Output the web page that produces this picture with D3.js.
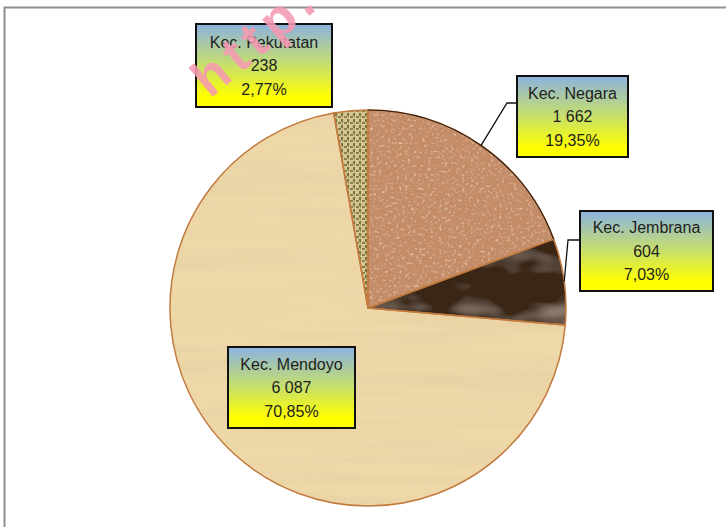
<!DOCTYPE html>
<html><head><meta charset="utf-8">
<script src="https://cdn.jsdelivr.net/npm/d3@7/dist/d3.min.js"></script>
<style>html,body{margin:0;padding:0;background:#fff;}svg{display:block;}</style>
</head><body>
<svg id="chart" width="726" height="527"></svg>
<script>
const categories = ["Kec. Negara", "Kec. Jembrana", "Kec. Mendoyo", "Kec. Pekutatan"];
const values = [1662, 604, 6087, 238];
const watermark = "http.";

const W = 726, H = 527;
const cx = 368, cy = 308, R = 198;
const svg = d3.select("#chart");
const defs = svg.append("defs");

// label box layout (top-left and size), keyed by category
const boxLayout = {
  "Kec. Negara":    {x: 517, y: 76,  w: 111, h: 81, leader: [[517,103],[507,103]]},
  "Kec. Jembrana":  {x: 580, y: 211, w: 133, h: 80, leader: [[580,240],[568,240]]},
  "Kec. Mendoyo":   {x: 228, y: 347, w: 127, h: 81, leader: null},
  "Kec. Pekutatan": {x: 196, y: 24,  w: 136, h: 83, leader: null}
};

// frame
svg.append("rect").attr("x", 4.5).attr("y", 7.5).attr("width", W + 20).attr("height", H + 20)
  .attr("fill", "#fff").attr("stroke", "#8f8f8f").attr("stroke-width", 2);

// gradient for boxes
const g = defs.append("linearGradient").attr("id", "boxGrad").attr("x1", 0).attr("y1", 0).attr("x2", 0).attr("y2", 1);
g.append("stop").attr("offset", "0%").attr("stop-color", "#8cb2e0");
g.append("stop").attr("offset", "50%").attr("stop-color", "#c8e06a");
g.append("stop").attr("offset", "88%").attr("stop-color", "#ffff00");
g.append("stop").attr("offset", "100%").attr("stop-color", "#ffff00");

// texture filters
function texFilter(id, freq, octaves, matrix, seed) {
  const f = defs.append("filter").attr("id", id).attr("x", 0).attr("y", 0).attr("width", 1).attr("height", 1)
    .attr("filterUnits", "objectBoundingBox");
  f.append("feTurbulence").attr("type", "fractalNoise").attr("baseFrequency", freq)
    .attr("numOctaves", octaves).attr("seed", seed).attr("result", "noise");
  f.append("feColorMatrix").attr("in", "noise").attr("type", "matrix").attr("values", matrix).attr("result", "cn");
  f.append("feComposite").attr("in", "cn").attr("in2", "SourceGraphic").attr("operator", "in").attr("result", "cl");
  f.append("feBlend").attr("in", "cl").attr("in2", "SourceGraphic").attr("mode", "normal");
}
function corkFilter(id) {
  const f = defs.append("filter").attr("id", id).attr("x", 0).attr("y", 0).attr("width", 1).attr("height", 1);
  f.append("feTurbulence").attr("type", "fractalNoise").attr("baseFrequency", "0.35")
    .attr("numOctaves", 3).attr("seed", 5).attr("result", "n1");
  f.append("feColorMatrix").attr("in", "n1").attr("type", "matrix")
    .attr("values", "0 0 0 0 0.48  0 0 0 0 0.28  0 0 0 0 0.15  -2.6 0 0 0 1.3").attr("result", "dark");
  f.append("feColorMatrix").attr("in", "n1").attr("type", "matrix")
    .attr("values", "0 0 0 0 0.88  0 0 0 0 0.68  0 0 0 0 0.52  2.2 0 0 0 -1.25").attr("result", "light");
  f.append("feMerge").attr("result", "m").call(m => {
    m.append("feMergeNode").attr("in", "SourceGraphic");
    m.append("feMergeNode").attr("in", "dark");
    m.append("feMergeNode").attr("in", "light");
  });
  f.append("feComposite").attr("in", "m").attr("in2", "SourceGraphic").attr("operator", "in");
}
corkFilter("texCork");
texFilter("texDark", "0.012 0.025", 3,
  "0 0 0 0 0.48  0 0 0 0 0.38  0 0 0 0 0.3  1.8 0 0 0 -0.85", 3);
texFilter("texPap", "0.004 0.09", 2,
  "0 0 0 0 0.78  0 0 0 0 0.62  0 0 0 0 0.36  1.4 0 0 0 -0.55", 3);

// weave pattern for Pekutatan
const pat = defs.append("pattern").attr("id", "weave").attr("width", 6).attr("height", 6)
  .attr("patternUnits", "userSpaceOnUse");
pat.append("rect").attr("width", 6).attr("height", 6).attr("fill", "#d4c690");
pat.append("rect").attr("x", 0).attr("y", 0).attr("width", 3).attr("height", 2).attr("fill", "#8a7f48");
pat.append("rect").attr("x", 3).attr("y", 3).attr("width", 2).attr("height", 3).attr("fill", "#7a7242");
pat.append("rect").attr("x", 4).attr("y", 0).attr("width", 1).attr("height", 2).attr("fill", "#aaa066");

const fills = {
  "Kec. Negara":    {fill: "#c58c66", filter: "url(#texCork)"},
  "Kec. Jembrana":  {fill: "#3a2618", filter: "url(#texDark)"},
  "Kec. Mendoyo":   {fill: "#eed8a8", filter: "url(#texPap)"},
  "Kec. Pekutatan": {fill: "url(#weave)", filter: null}
};

const data = categories.map((c, i) => ({cat: c, value: values[i]}));
const total = d3.sum(values);
const pie = d3.pie().value(d => d.value).sort(null).startAngle(0).endAngle(2 * Math.PI);
const arcs = pie(data);
const arc = d3.arc().innerRadius(0).outerRadius(R);

const gp = svg.append("g").attr("transform", `translate(${cx},${cy})`);
gp.selectAll("path.slice").data(arcs).join("path").attr("class", "slice")
  .attr("d", arc)
  .attr("fill", d => fills[d.data.cat].fill)
  .attr("filter", d => fills[d.data.cat].filter);
gp.selectAll("path.edge").data(arcs).join("path").attr("class", "edge")
  .attr("d", arc).attr("fill", "none").attr("stroke", "#c27a3e").attr("stroke-width", 1.5)
  .attr("stroke-linejoin", "round");
const rimArc = d3.arc().innerRadius(R).outerRadius(R);
gp.append("path").attr("d", rimArc(arcs[0])).attr("fill", "none").attr("stroke", "#2a1a10").attr("stroke-width", 1.2);

// labels
const fmtNum = d3.formatLocale({decimal: ",", thousands: " ", grouping: [3], currency: ["", ""]}).format(",d");
const fmtPct = d => (d * 100).toFixed(2).replace(".", ",") + "%";

const lab = svg.append("g");
arcs.forEach(a => {
  const L = boxLayout[a.data.cat];
  if (L.leader) {
    const mid = (a.startAngle + a.endAngle) / 2;
    const ex = cx + R * Math.sin(mid), ey = cy - R * Math.cos(mid);
    const pts = L.leader.concat([[ex, ey]]);
    lab.append("path").attr("d", d3.line()(pts)).attr("fill", "none").attr("stroke", "#111").attr("stroke-width", 1.3);
  }
  lab.append("rect").attr("x", L.x).attr("y", L.y).attr("width", L.w).attr("height", L.h)
    .attr("fill", "url(#boxGrad)").attr("stroke", "#111").attr("stroke-width", 2);
  const lines = [a.data.cat, fmtNum(a.data.value), fmtPct(a.data.value / total)];
  lines.forEach((t, i) => {
    lab.append("text").attr("x", L.x + L.w / 2).attr("y", L.y + L.h / 2 + (i - 1) * 23.5)
      .attr("text-anchor", "middle").attr("dominant-baseline", "central")
      .attr("font-family", "Liberation Sans, Arial, sans-serif").attr("font-size", 16)
      .attr("fill", "#1e1e1e").text(t);
  });
});

// watermark on top
svg.append("text").attr("transform", "translate(210,99) rotate(-40)")
  .attr("font-family", "Liberation Sans, Arial, sans-serif").attr("font-weight", "bold")
  .attr("font-size", 52).attr("letter-spacing", 7)
  .attr("fill", "#f59ab0").attr("fill-opacity", 0.88).text(watermark);
</script>
</body></html>
